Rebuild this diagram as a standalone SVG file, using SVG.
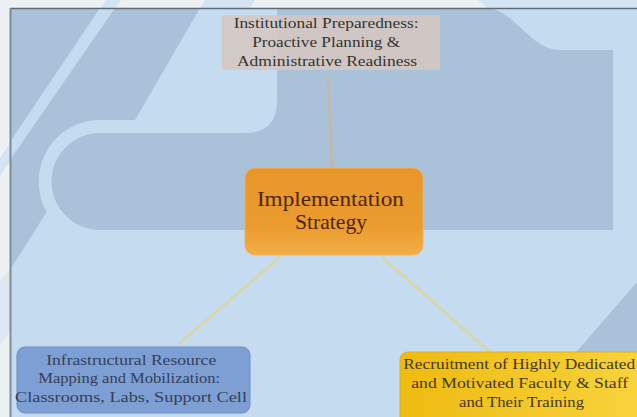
<svg xmlns="http://www.w3.org/2000/svg" width="637" height="417" viewBox="0 0 637 417">
<defs>
<style>
.dark{fill:#a9c2da}
.light{fill:#c5dcf0}
.mlight{fill:#d4e4f2}
.t{font-family:"Liberation Serif","Times New Roman",serif;text-anchor:middle}
.conn{stroke-width:2.5;fill:none;stroke-linecap:round}
</style>
<linearGradient id="gold" x1="0" y1="0" x2="1" y2="0">
<stop offset="0" stop-color="#eebb10"/>
<stop offset="1" stop-color="#f8d43e"/>
</linearGradient>
<linearGradient id="orange" x1="0" y1="0" x2="0" y2="1">
<stop offset="0" stop-color="#ec9420"/>
<stop offset="0.7" stop-color="#ef9a26"/>
<stop offset="1" stop-color="#f6ab40"/>
</linearGradient>
<clipPath id="frame"><rect x="10" y="8" width="627" height="409"/></clipPath>
</defs>

<g id="background">
<rect x="0" y="0" width="637" height="417" fill="#eef1f4"/>
<polygon class="mlight" points="106,0 121,0 0,176 0,158"/>
<polygon class="mlight" points="205,0 255,0 250,8 200,8"/>
<polygon class="mlight" points="478,0 637,0 637,8 487,8"/>
<polygon fill="#dde8f2" points="0,280 12,268 12,330 0,345"/>
<g clip-path="url(#frame)">
<rect class="light" x="10" y="8" width="627" height="409"/>
<path class="dark" d="M277,8 H487 C515,10 530,50 560,50 H613 V230 H100 A48.5,48.5 0 0 1 100,133 H245 Q277,133 277,100 Z"/>
<path class="dark" d="M10,8 H200 L135,120 H100 A61.5,61.5 0 0 0 46.7,212 L10,270 Z"/>
<polygon class="light" points="100,8 115,8 10,160 10,142"/>
<polygon class="dark" points="637,282 637,417 520,417"/>
</g>
<line x1="10" y1="8.5" x2="637" y2="8.5" stroke="#5f6b76" stroke-width="1.5"/>
<line x1="10.5" y1="8" x2="10.5" y2="417" stroke="#7f8b96" stroke-width="2"/>
</g>

<g id="connectors">
<line class="conn" x1="328" y1="77" x2="332" y2="168" stroke="#c6b89c"/>
<line class="conn" x1="280" y1="257" x2="180" y2="343" stroke="#d8d6a2"/>
<line class="conn" x1="383" y1="258" x2="490" y2="352" stroke="#d8d6a2"/>
</g>

<g id="node-institutional">
<rect x="222" y="15" width="218" height="55" rx="2" fill="#d4c8c3" opacity="0.92"/>
<text class="t" font-size="15" fill="#333333">
<tspan x="328" y="28" textLength="185" lengthAdjust="spacingAndGlyphs">Institutional  Preparedness:</tspan>
<tspan x="328" y="47" textLength="148" lengthAdjust="spacingAndGlyphs">Proactive Planning  &amp;</tspan>
<tspan x="327" y="66" textLength="180" lengthAdjust="spacingAndGlyphs">Administrative  Readiness</tspan>
</text>
</g>

<g id="node-implementation">
<rect x="245" y="168" width="178" height="87" rx="10" fill="url(#orange)" opacity="0.95" stroke="#f3b256" stroke-width="1"/>
<text class="t" font-size="21" fill="#4e2408">
<tspan x="333" y="206" textLength="147" lengthAdjust="spacingAndGlyphs">Implementation</tspan>
<tspan x="331" y="229" textLength="72" lengthAdjust="spacingAndGlyphs">Strategy</tspan>
</text>
</g>

<g id="node-infrastructure">
<rect x="17" y="347" width="233" height="66" rx="8" fill="#7d9fd3" stroke="#6b8cc4" stroke-width="1"/>
<text class="t" font-size="14.5" fill="#34405a">
<tspan x="133" y="365" textLength="170" lengthAdjust="spacingAndGlyphs">Infrastructural Resource</tspan>
<tspan x="131" y="383" textLength="182" lengthAdjust="spacingAndGlyphs">Mapping and Mobilization:</tspan>
<tspan x="131" y="402" textLength="232" lengthAdjust="spacingAndGlyphs">Classrooms, Labs, Support Cell</tspan>
</text>
</g>

<g id="node-recruitment">
<rect x="400" y="352" width="250" height="80" rx="8" fill="url(#gold)" stroke="#e4b010" stroke-width="1"/>
<text class="t" font-size="14.5" fill="#45370f">
<tspan x="521" y="369" textLength="232" lengthAdjust="spacingAndGlyphs">Recruitment of Highly Dedicated</tspan>
<tspan x="521.5" y="388" textLength="217" lengthAdjust="spacingAndGlyphs">and Motivated Faculty &amp; Staff</tspan>
<tspan x="521.5" y="407" textLength="125" lengthAdjust="spacingAndGlyphs">and Their Training</tspan>
</text>
</g>
</svg>
